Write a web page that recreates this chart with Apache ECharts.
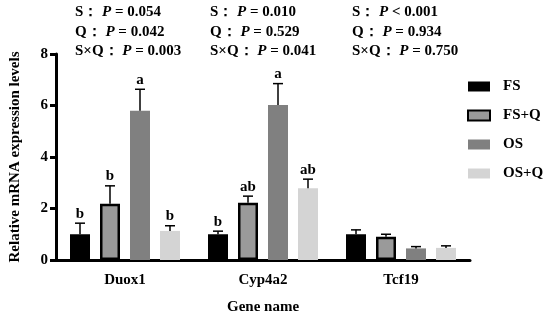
<!DOCTYPE html>
<html><head><meta charset="utf-8">
<script src="https://cdn.jsdelivr.net/npm/echarts@6/dist/echarts.min.js"></script>
<style>html,body{margin:0;padding:0;background:#fff}#c{width:550px;height:320px}</style>
</head><body><div id="c"></div>
<script>
var categories = ['Duox1', 'Cyp4a2', 'Tcf19'];
var seriesNames = ['FS', 'FS+Q', 'OS', 'OS+Q'];
var fsValues = [1.0, 1.0, 1.0];
var fsqValues = [2.18, 2.22, 0.9];
var osValues = [5.8, 6.02, 0.45];
var osqValues = [1.13, 2.79, 0.47];
var fsErr = [0.43, 0.12, 0.17];
var fsqErr = [0.7, 0.26, 0.1];
var osErr = [0.83, 0.83, 0.07];
var osqErr = [0.2, 0.35, 0.08];
var fsLetters = ['b', 'b', ''];
var fsqLetters = ['b', 'ab', ''];
var osLetters = ['a', 'a', ''];
var osqLetters = ['b', 'ab', ''];
var statRows = [
  ['S：', '= 0.054', 'S：', '= 0.010', 'S：', '< 0.001'],
  ['Q：', '= 0.042', 'Q：', '= 0.529', 'Q：', '= 0.934'],
  ['S×Q：', '= 0.003', 'S×Q：', '= 0.041', 'S×Q：', '= 0.750']
];
var yTicks = [0, 2, 4, 6, 8];

var FONT = '"Times New Roman","Liberation Serif",serif';
var allValues = [fsValues, fsqValues, osValues, osqValues];
var allErr = [fsErr, fsqErr, osErr, osqErr];
var allLetters = [fsLetters, fsqLetters, osLetters, osqLetters];
var styles = [
  {color: '#000000'},
  {color: '#9a9a9a', borderColor: '#000', borderWidth: 2.5},
  {color: '#808080'},
  {color: '#d4d4d4'}
];

var series = seriesNames.map(function (n, i) {
  return {
    name: n, type: 'bar', data: allValues[i], barWidth: 20, barGap: '50%',
    itemStyle: styles[i], emphasis: {disabled: true}, z: 2
  };
});

var errData = [];
categories.forEach(function (c, ci) {
  for (var s = 0; s < 4; s++) {
    errData.push([ci, allValues[s][ci], allValues[s][ci] + allErr[s][ci], s, allLetters[s][ci]]);
  }
});
series.push({
  type: 'custom', data: errData, z: 5, silent: true,
  renderItem: function (params, api) {
    var ci = api.value(0), s = api.value(3);
    var off = (s - 1.5) * 30;
    var p0 = api.coord([ci, api.value(1)]);
    var p1 = api.coord([ci, api.value(2)]);
    var x = p0[0] + off;
    var letter = errData[params.dataIndex][4];
    var children = [
      {type: 'line', shape: {x1: x, y1: p0[1], x2: x, y2: p1[1]}, style: {stroke: '#000', lineWidth: 1.5}},
      {type: 'line', shape: {x1: x - 5, y1: p1[1], x2: x + 5, y2: p1[1]}, style: {stroke: '#000', lineWidth: 1.5}}
    ];
    if (letter) {
      children.push({type: 'text', style: {text: letter, x: x, y: p1[1] - 2, align: 'center', verticalAlign: 'bottom',
        font: 'bold 15px ' + FONT, fill: '#000'}});
    }
    return {type: 'group', children: children};
  }
});

var graphics = [];
var colX = [75, 210, 352];
var rowY = [13, 33, 52];
statRows.forEach(function (row, r) {
  for (var k = 0; k < 3; k++) {
    graphics.push({
      type: 'text', left: colX[k], top: rowY[r] - 8,
      style: {
        text: '{b|' + row[k * 2] + '}{i| P }{b|' + row[k * 2 + 1] + '}',
        rich: {
          b: {font: 'bold 15px ' + FONT, fill: '#000'},
          i: {font: 'italic bold 15px ' + FONT, fill: '#000'}
        }
      }
    });
  }
});

var chart = echarts.init(document.getElementById('c'), null, {renderer: 'canvas'});
chart.setOption({
  animation: false,
  backgroundColor: '#fff',
  grid: {left: 52, right: 80, top: 54, bottom: 56},
  legend: {
    data: seriesNames, orient: 'vertical', left: 467, top: 79, padding: 0,
    icon: 'rect', itemWidth: 22, itemHeight: 10, itemGap: 14,
    textStyle: {fontFamily: FONT, fontWeight: 'bold', fontSize: 15, color: '#000', padding: [0, 0, 0, 8]},
    selectedMode: false
  },
  xAxis: {
    type: 'category', data: categories,
    name: 'Gene name', nameLocation: 'middle', nameGap: 40,
    nameTextStyle: {fontFamily: FONT, fontWeight: 'bold', fontSize: 15, color: '#000'},
    axisLine: {lineStyle: {color: '#000', width: 3}},
    axisTick: {alignWithLabel: true, length: 6, lineStyle: {color: '#000', width: 3}},
    axisLabel: {fontFamily: FONT, fontWeight: 'bold', fontSize: 15, color: '#000', margin: 13}
  },
  yAxis: {
    type: 'value', min: 0, max: 8, interval: 2,
    name: 'Relative mRNA expression levels', nameLocation: 'middle', nameGap: 33,
    nameTextStyle: {fontFamily: FONT, fontWeight: 'bold', fontSize: 15, color: '#000'},
    axisLine: {show: true, lineStyle: {color: '#000', width: 3}},
    axisTick: {show: true, length: 6, lineStyle: {color: '#000', width: 3}},
    axisLabel: {fontFamily: FONT, fontWeight: 'bold', fontSize: 15, color: '#000', margin: 8,
      formatter: function (v) { return yTicks.indexOf(v) >= 0 ? String(v) : ''; }},
    splitLine: {show: false}
  },
  graphic: graphics,
  series: series
});
</script></body></html>
